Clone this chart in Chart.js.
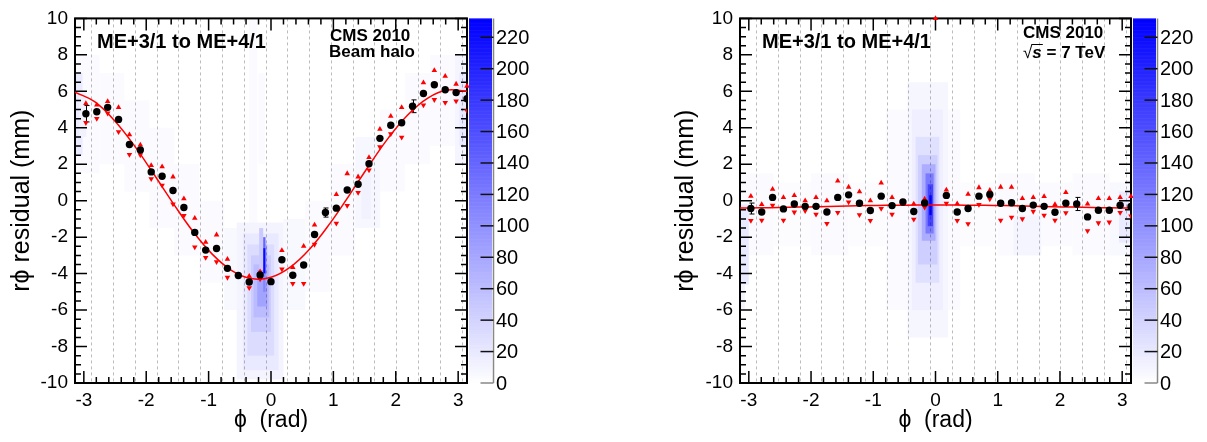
<!DOCTYPE html>
<html><head><meta charset="utf-8">
<script src="https://cdn.jsdelivr.net/npm/chart.js@4.4.1/dist/chart.umd.min.js"></script>
<style>
html,body{margin:0;padding:0;background:#fff;width:1207px;height:442px;overflow:hidden;}
.panel{position:absolute;top:0;height:442px;}
canvas{display:block;}
</style></head><body>
<div class="panel" style="left:0;width:664px"><canvas id="c1" width="664" height="442"></canvas></div>
<div class="panel" style="left:664px;width:543px"><canvas id="c2" width="543" height="442"></canvas></div>
<script>
// ---------------- DATA ----------------
const phiBinsDeg = [-170,-160,-150,-140,-130,-120,-110,-100,-90,-80,-70,-60,-50,-40,-30,-20,-10,0,10,20,30,40,50,60,70,80,90,100,110,120,130,140,150,160,170,180];
const chamberEdgesDeg = [-165,-145,-125,-105,-85,-65,-45,-25,-5,15,35,55,75,95,115,135,155,175];
const xTickVals = [-3,-2,-1,0,1,2,3];
const yTickVals = [-10,-8,-6,-4,-2,0,2,4,6,8,10];
const colorTickVals = [0,20,40,60,80,100,120,140,160,180,200,220];
const zMax = 232;

// Left panel: beam halo
const meanHalo = [4.77,4.88,5.12,4.46,3.08,2.78,1.58,1.34,0.56,-0.37,-1.74,-2.71,-2.62,-3.71,-4.10,-4.46,-4.07,-4.44,-3.24,-4.09,-3.53,-1.85,-0.65,-0.41,0.59,0.90,2.03,3.42,4.14,4.28,5.18,5.88,6.36,6.09,5.93,5.59];
const upHalo   = [5.34,5.25,5.45,5.12,3.62,3.06,1.94,1.87,1.31,0.11,-0.96,-2.28,-1.87,-3.21,null,-4.14,-3.89,null,-2.73,-3.66,-2.49,-1.33,null,0.34,1.49,1.31,2.37,3.92,4.64,5.12,null,6.47,7.15,6.83,6.40,6.29];
const downHalo = [4.28,4.50,4.80,3.78,2.53,2.51,1.20,0.84,-0.18,-0.82,-2.54,-3.12,-3.35,-4.21,null,-4.78,-4.30,null,-3.75,-4.55,-4.55,-2.40,null,-1.24,-0.27,0.45,1.68,2.96,3.67,3.48,4.98,5.25,5.54,5.38,5.47,4.93];
const errHalo  = [0.45,0,0,0,0,0,0,0,0,0,0,0,0,0,0,0,0,0,0,0,0,0,0.25,0,0,0,0,0,0,0,0.35,0,0,0,0,0];
const fitPhi   = [-3.1416,-2.8274,-2.5133,-2.1991,-1.885,-1.5708,-1.2566,-0.9425,-0.6283,-0.3142,0,0.3142,0.6283,0.9425,1.2566,1.5708,1.885,2.1991,2.5133,2.8274,3.1416];
const fitHalo  = [5.95,5.43,4.41,3.06,1.49,-0.13,-1.66,-2.93,-3.83,-4.27,-4.20,-3.63,-2.62,-1.26,0.31,1.93,3.46,4.73,5.63,6.07,6.00];
// heat cells: [phiLo, phiHi, yLo, yHi, entries]
const heatHalo = [
  [-3.14,-2.75,1.5,8,5],[-2.75,-2.35,2,7,4],[-2.35,-1.95,0.5,5.5,5],[-1.95,-1.55,-1.5,4,4],
  [-1.55,-1.15,-3,2,5],[-1.15,-0.75,-4.5,0,4],[-0.75,-0.5,-6,-1.5,6],[0.2,0.55,-6,-1,6],
  [0.55,0.95,-5,0,4],[0.95,1.35,-3,2,5],[1.35,1.75,-1.5,3.5,7],[1.75,2.15,0.5,5,4],
  [2.15,2.55,2,7,5],[2.55,2.95,3,8,5],[2.95,3.14,2,8,9],
  [-3.14,-3.02,2.5,7,18],[-3.08,-2.96,3.5,6,12],[3.02,3.14,3,7,20],[1.45,1.6,-1,1.5,12],
  [-0.35,-0.22,-1.5,10,5],[-0.2,-0.1,2,7,5],
  [-0.55,0.2,-9.8,-1.2,10],[-0.45,0.12,-9.3,-1.8,20],[-0.38,0.05,-8.5,-2.4,32],
  [-0.32,0.0,-7.2,-3.0,46],[-0.28,-0.03,-6.4,-3.5,62],[-0.22,-0.06,-5.8,-3.8,85],
  [-0.19,-0.125,-3.8,-1.5,48],[-0.088,-0.06,-4.6,-2.4,70],
  [-0.125,-0.088,-2.6,-2.0,140],[-0.125,-0.088,-4.0,-2.6,225],[-0.125,-0.088,-5.0,-4.0,110]
];

// Right panel: collisions
const meanColl = [-0.43,-0.62,0.18,-0.45,-0.18,-0.31,-0.31,-0.62,0.18,0.32,-0.14,-0.54,0.25,-0.27,-0.07,-0.59,-0.12,null,0.29,-0.62,-0.43,0.25,0.34,-0.14,-0.11,-0.43,-0.24,-0.31,-0.63,-0.14,-0.18,-0.89,-0.52,-0.52,-0.25,-0.32];
const upColl   = [0.25,-0.20,0.63,0.18,0.29,0.00,0.18,0.00,1.08,0.75,0.50,0.00,0.97,0.18,null,-0.18,0.09,10,0.59,-0.16,0.36,0.72,0.57,0.75,0.74,0.13,0.18,0.23,-0.20,0.45,null,-0.18,0.13,0.13,0.18,0.23];
const downColl = [-1.09,-1.08,-0.25,-1.08,-0.63,-0.55,-0.75,-1.26,-0.65,-0.07,-0.77,-1.09,-0.43,-0.75,null,-1.02,-0.36,null,-0.14,-1.09,-1.27,-0.21,0.09,-1.08,-0.91,-1.00,-0.59,-0.80,-1.08,-0.66,null,-1.65,-1.22,-1.18,-0.65,-0.84];
const errColl  = [0.3,0,0,0,0,0,0,0,0,0,0,0,0,0,0,0,0,0,0,0,0,0,0,0,0,0,0,0,0,0,0.36,0,0,0,0,0];
const fitColl  = [-0.40,-0.39,-0.37,-0.35,-0.33,-0.30,-0.28,-0.26,-0.25,-0.24,-0.24,-0.24,-0.25,-0.26,-0.28,-0.30,-0.33,-0.35,-0.37,-0.39,-0.40];
const heatColl = [
  [-3.14,-2.6,-3,1.5,4],[-2.6,-2.0,-2.5,1,3],[-2.0,-1.4,-3,1.5,4],[-1.4,-0.8,-2.5,1,3],
  [0.4,1.0,-2.5,1,3],[1.0,1.6,-3,1.5,5],[1.6,2.2,-2.5,1,4],[2.2,2.8,-3,1.5,4],[2.8,3.14,-3,1,6],
  [-3.14,-3.0,-4.6,-0.2,20],[-3.14,-3.06,-6,-4.6,10],[1.25,1.7,-3,-0.8,9],[2.95,3.14,-2.3,0.5,18],
  [-0.8,0.4,-6,5,4],
  [-0.45,0.2,-7.5,6.5,8],[-0.38,0.12,-6.0,5.0,15],[-0.32,0.06,-4.5,3.5,28],[-0.28,0.03,-3.5,2.5,45],
  [-0.22,0.0,-2.2,2.0,75],[-0.16,-0.03,-1.8,1.5,120],[-0.125,-0.04,-1.4,0.9,170],[-0.1,-0.06,-0.8,0.3,230]
];

// ---------------- DRAWING ----------------
const FONT = "'Liberation Sans', Arial, Helvetica, sans-serif";
Chart.defaults.font.family = FONT;
const DEG = Math.PI/180;
function zColor(z){ const t=Math.max(0,Math.min(1,z/zMax)); const c=Math.round(255*(1-t)); return 'rgb('+c+','+c+',255)'; }
function pts(vals){ const o=[]; vals.forEach((v,i)=>{ if(v!==null) o.push({x:phiBinsDeg[i]*DEG,y:v}); }); return o; }

function makePanel(id, p){
  const decor = {
    id:'decor',
    beforeDatasetsDraw(chart){
      const {ctx, chartArea:a, scales:{x,y}} = chart;
      ctx.save();
      ctx.beginPath(); ctx.rect(a.left,a.top,a.right-a.left,a.bottom-a.top); ctx.clip();
      p.heat.forEach(c=>{
        const x0=x.getPixelForValue(c[0]), x1=x.getPixelForValue(c[1]);
        const y0=y.getPixelForValue(c[3]), y1=y.getPixelForValue(c[2]);
        ctx.fillStyle=zColor(c[4]); ctx.fillRect(x0,y0,x1-x0,y1-y0);
      });
      ctx.globalCompositeOperation='multiply';
      ctx.setLineDash([3,3]); ctx.strokeStyle='#bcbcbc'; ctx.lineWidth=1;
      chamberEdgesDeg.forEach(d=>{ const px=Math.round(x.getPixelForValue(d*DEG))+0.5;
        ctx.beginPath(); ctx.moveTo(px,a.top); ctx.lineTo(px,a.bottom); ctx.stroke(); });
      ctx.setLineDash([]);
      ctx.restore();
      // frame + ticks
      ctx.save();
      ctx.strokeStyle='#000'; ctx.lineWidth=2;
      ctx.strokeRect(a.left,a.top,a.right-a.left,a.bottom-a.top);
      ctx.lineWidth=1.5;
      for(let v=-10; v<=10.001; v+=0.5){
        const py=y.getPixelForValue(v); const L = (Math.abs(v/2-Math.round(v/2))<1e-6)?12:6;
        ctx.beginPath(); ctx.moveTo(a.left,py); ctx.lineTo(a.left+L,py); ctx.moveTo(a.right,py); ctx.lineTo(a.right-L,py); ctx.stroke();
      }
      for(let v=-3.2; v<=3.2; v+=0.2){
        const vv=Math.round(v*10)/10; if(vv< -Math.PI||vv>Math.PI) continue;
        const px=x.getPixelForValue(vv); const L=(Math.abs(vv-Math.round(vv))<1e-6)?12:6;
        ctx.beginPath(); ctx.moveTo(px,a.bottom); ctx.lineTo(px,a.bottom-L); ctx.moveTo(px,a.top); ctx.lineTo(px,a.top+L); ctx.stroke();
      }
      // error bars
      ctx.strokeStyle='#000'; ctx.lineWidth=1;
      p.mean.forEach((m,i)=>{ const e=p.err[i]; if(m===null||!e) return;
        const px=Math.round(x.getPixelForValue(phiBinsDeg[i]*DEG))+0.5, y0=y.getPixelForValue(m+e), y1=y.getPixelForValue(m-e);
        ctx.beginPath(); ctx.moveTo(px,y0); ctx.lineTo(px,y1); ctx.moveTo(px-2,y0); ctx.lineTo(px+3,y0); ctx.moveTo(px-2,y1); ctx.lineTo(px+3,y1); ctx.stroke(); });
      ctx.restore();
    },
    afterDraw(chart){
      const {ctx, chartArea:a} = chart;
      ctx.save();
      const cx0=a.right+2, cx1=a.right+25, axX=a.right+26.5;
      const zy = v => a.bottom - v*(a.bottom-a.top)/zMax;
      for(let v=0; v<zMax; v+=0.5){ ctx.fillStyle=zColor(v+0.25); const y0=zy(v+0.5), y1=zy(v); ctx.fillRect(cx0,y0,cx1-cx0,y1-y0+0.6); }
      ctx.strokeStyle='#888'; ctx.lineWidth=1.5;
      ctx.beginPath(); ctx.moveTo(axX,a.top); ctx.lineTo(axX,a.bottom); ctx.stroke();
      ctx.lineWidth=1.5;
      ctx.fillStyle='#000'; ctx.font='20px '+FONT; ctx.textAlign='left'; ctx.textBaseline='middle';
      colorTickVals.forEach(v=>{ const py=zy(v);
        ctx.strokeStyle = v===0?'#888':'#111';
        ctx.beginPath(); ctx.moveTo(axX-13,py); ctx.lineTo(axX,py); ctx.stroke();
        ctx.fillText(String(v), a.right+29, py+1); });
      // annotations
      ctx.fillStyle='#000'; ctx.textBaseline='middle'; ctx.textAlign='left';
      ctx.font='bold 20px '+FONT; ctx.fillText('ME+3/1 to ME+4/1', a.left+22, 42);
      ctx.font='bold 17px '+FONT;
      ctx.fillText('CMS 2010', a.left+p.cmsX, p.cmsY);
      if(p.beam){ ctx.fillText('Beam halo', a.left+p.cmsX-1, 52); }
      else {
        let xx=a.left+p.cmsX, yy=53;
        ctx.font='17px '+FONT; ctx.fillText('\u221A', xx, yy); const w1=ctx.measureText('\u221A').width;
        ctx.font='italic bold 17px '+FONT; ctx.fillText('s', xx+w1, yy); const w2=ctx.measureText('s').width;
        ctx.lineWidth=1; ctx.strokeStyle='#000'; ctx.beginPath(); ctx.moveTo(xx+w1-1,yy-8.5); ctx.lineTo(xx+w1+w2+1,yy-8.5); ctx.stroke();
        ctx.font='bold 17px '+FONT; ctx.fillText(' = 7 TeV', xx+w1+w2, yy);
      }
      ctx.restore();
    }
  };
  return new Chart(document.getElementById(id), {
    type:'scatter',
    data:{ datasets:[
      {data:pts(p.mean), pointStyle:'circle', pointRadius:3.7, backgroundColor:'#000', borderColor:'#000', borderWidth:0, order:0},
      {data:pts(p.up), pointStyle:'triangle', pointRadius:3.2, backgroundColor:'#ff0000', borderColor:'#ff0000', borderWidth:0, order:1, clip:false},
      {data:pts(p.down), pointStyle:'triangle', rotation:180, pointRadius:3.2, backgroundColor:'#ff0000', borderColor:'#ff0000', borderWidth:0, order:1},
      {type:'line', data:fitPhi.map((v,i)=>({x:v,y:p.fit[i]})), showLine:true, borderColor:'#ff0000', borderWidth:1.5, pointRadius:0, tension:0.4, fill:false, order:2}
    ]},
    options:{
      responsive:false, animation:false, devicePixelRatio:1,
      layout:{padding:{top:11,right:p.padRight,left:0,bottom:0}},
      plugins:{legend:{display:false}, tooltip:{enabled:false}},
      scales:{
        x:{type:'linear', min:-Math.PI, max:Math.PI,
          afterBuildTicks:s=>{ s.ticks=xTickVals.map(v=>({value:v})); },
          afterFit:s=>{ s.height=59; },
          grid:{display:false, drawTicks:false}, border:{display:false},
          ticks:{color:'#000', font:{size:19}, padding:6, maxRotation:0, autoSkip:false},
          title:{display:true, text:'\u03D5  (rad)', color:'#000', font:{size:23}, padding:{top:0,bottom:8}}},
        y:{type:'linear', min:-10, max:10,
          afterBuildTicks:s=>{ s.ticks=yTickVals.map(v=>({value:v})); },
          afterFit:s=>{ s.width=p.yWidth; },
          grid:{display:false, drawTicks:false}, border:{display:false},
          ticks:{color:'#000', font:{size:19}, padding:7, autoSkip:false},
          title:{display:true, text:'r\u03D5 residual (mm)', color:'#000', font:{size:25}, padding:{top:7,bottom:0}}}
      }
    },
    plugins:[decor]
  });
}

makePanel('c1', {mean:meanHalo, up:upHalo, down:downHalo, err:errHalo, fit:fitHalo, heat:heatHalo, yWidth:75, padRight:197, cmsX:255, cmsY:36, beam:true});
makePanel('c2', {mean:meanColl, up:upColl, down:downColl, err:errColl, fit:fitColl, heat:heatColl, yWidth:76, padRight:76, cmsX:283, cmsY:33, beam:false});
</script>
</body></html>
